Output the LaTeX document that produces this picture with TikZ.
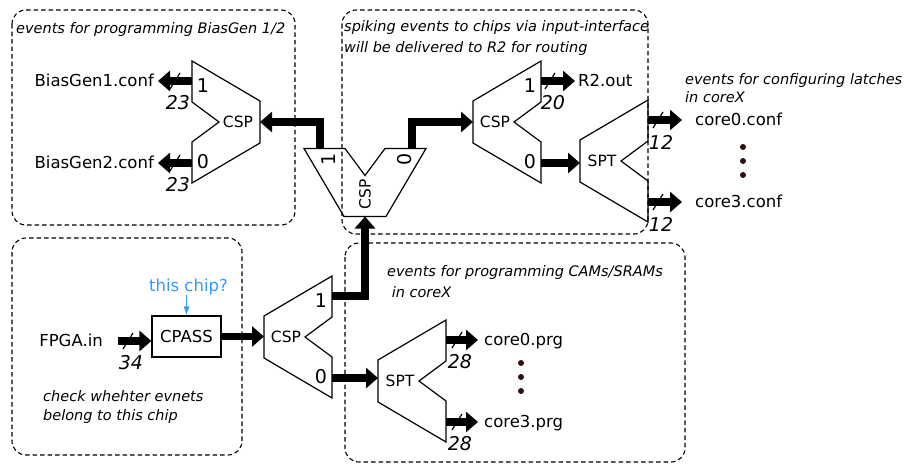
\documentclass[tikz,border=0pt]{standalone}
\usepackage{fontspec}
\setmainfont{DejaVu Sans}
\usetikzlibrary{arrows.meta,calc,positioning}

\definecolor{qblue}{RGB}{51,153,255}
\definecolor{dotc}{RGB}{50,15,15}

\tikzset{
  group/.style={draw, line width=1.1pt, dash pattern=on 4.5pt off 3pt, rounded corners=14pt},
  bus/.style={line width=7.5pt, line join=miter, -{Triangle[length=12pt,width=20pt]}},
  query/.style={draw=qblue, line width=1.2pt, -{Latex[length=9pt,width=6pt]}},
  iolabel/.style={inner sep=0pt, text height=13pt, text depth=3pt, font=\fontsize{16.5}{18}\selectfont},
  note/.style={inner sep=0pt, align=left, font=\fontsize{14.5}{18}\selectfont\itshape},
  portnum/.style={inner sep=0pt, font=\fontsize{19}{20}\selectfont},
  widthnum/.style={inner sep=0pt, font=\fontsize{19}{20}\selectfont\itshape},
  blocklabel/.style={inner sep=0pt, font=\fontsize{15.5}{16}\selectfont},
  pics/demux/.style args={#1/#2/#3}{code={
    \draw[line width=1.2pt] (-34,-21) -- (34,-61) -- (34,-20) -- (7,0) -- (34,20) -- (34,61) -- (-34,21) -- cycle;
    \coordinate (-in) at (-34,0);
    \coordinate (-o1) at (34,-41);
    \coordinate (-o0) at (34,41);
    \node[blocklabel] at (-12,0) {#1};
    \node[portnum] at (23,-36) {#2};
    \node[portnum] at (23,40) {#3};
  }},
  pics/buswidth/.style={code={
    \draw[line width=1.2pt] (-5,8) -- (5,-8);
    \node[widthnum] at (3,22) {#1};
  }},
}

\begin{document}
\begin{tikzpicture}[x=1pt, y=-1pt]
  \useasboundingbox (0,0) rectangle (906,466);
  % dashed groups
  \draw[group] (12,10) rectangle (295,225);
  \draw[group] (342,10) rectangle (648,234);
  \draw[group] (12,238) rectangle (242,455);
  \draw[group] (345,243) rectangle (685,462);
  \node[note, anchor=north west] at (16,22.5) {events for programming BiasGen 1/2};
  \node[note, anchor=north west] at (344,20) {spiking events to chips via input-interface\\[3pt]will be delivered to R2 for routing};
  \node[note, anchor=north west] at (685,73) {events for configuring latches\\in coreX};
  \node[note, anchor=north west] at (387,265.5) {events for programming CAMs/SRAMs\\[2.5pt]~in coreX};
  \node[note, anchor=north west] at (43,390) {check whehter evnets\\[1pt]belong to this chip};

  % switches
  \pic[xscale=-1] (bias) at (226,122) {demux=CSP/1/0};
  \pic[rotate=90, transform shape] (mid) at (365,182.5) {demux=CSP/1/0};
  \pic (route) at (507,122) {demux=CSP/1/0};
  \pic (latch) at (614,161) {demux=SPT//};
  \pic (sel) at (298,337) {demux=CSP/1/0};
  \pic (prog) at (412,381) {demux=SPT//};

  % input side
  \node[iolabel, anchor=east] (fpga) at (103,341) {FPGA.in};
  \node[draw, line width=1.2pt, minimum width=69pt, minimum height=41pt, inner sep=0pt,
        font=\fontsize{16.5}{18}\selectfont] (cpass) at (186.5,336.5) {CPASS};
  \node[inner sep=0pt, anchor=base, text=qblue, font=\fontsize{16.5}{18}\selectfont] (chipq) at (188.5,291) {this chip?};
  \draw[query] (chipq.south -| cpass.north) -- (cpass.north);
  \draw[bus, shorten <=15pt] (fpga.east) -- (fpga.east -| cpass.west);
  \pic at ($(fpga.east)+(25,0)$) {buswidth=34};
  \draw[bus] (cpass.east) -- (cpass.east -| sel-in);

  % between switches
  \draw[bus] (sel-o1) -| (mid-in);
  \draw[bus] (sel-o0) -- (sel-o0 -| prog-in);
  \draw[bus] ([xshift=-4pt]mid-o1) |- (bias-in);
  \draw[bus] ([xshift=6pt]mid-o0) |- (route-in);
  \draw[bus] (route-o0) -- (route-o0 -| latch-in);

  % outputs
  \node[iolabel, left=38pt of bias-o1] (bg1) {BiasGen1.conf};
  \node[iolabel, left=38pt of bias-o0] (bg2) {BiasGen2.conf};
  \draw[bus, shorten >=4pt] (bias-o1) -- (bg1);
  \draw[bus, shorten >=4pt] (bias-o0) -- (bg2);
  \pic at ($(bias-o1)+(-17,0)$) {buswidth=23};
  \pic at ($(bias-o0)+(-17,0)$) {buswidth=23};

  \node[iolabel, right=37pt of route-o1] (r2out) {R2.out};
  \draw[bus, shorten >=3pt] (route-o1) -- (r2out);
  \pic at ($(route-o1)+(9,0)$) {buswidth=20};

  \node[iolabel, right=47pt of latch-o1] (c0conf) {core0.conf};
  \node[iolabel, right=47pt of latch-o0] (c3conf) {core3.conf};
  \draw[bus, shorten >=13pt] (latch-o1) -- (c0conf);
  \draw[bus, shorten >=13pt] (latch-o0) -- (c3conf);
  \pic at ($(latch-o1)+(10,0)$) {buswidth=12};
  \pic at ($(latch-o0)+(10,0)$) {buswidth=12};

  \node[iolabel, right=38pt of prog-o1] (c0prg) {core0.prg};
  \node[iolabel, right=38pt of prog-o0] (c3prg) {core3.prg};
  \draw[bus, shorten >=6pt] (prog-o1) -- (c0prg);
  \draw[bus, shorten >=6pt] (prog-o0) -- (c3prg);
  \pic at ($(prog-o1)+(11,0)$) {buswidth=28};
  \pic at ($(prog-o0)+(11,0)$) {buswidth=28};

  % more cores
  \foreach \y in {147,161,175} \fill[dotc] (743,\y) circle (3pt);
  \foreach \y in {363,377,391} \fill[dotc] (521,\y) circle (3pt);
\end{tikzpicture}
\end{document}
